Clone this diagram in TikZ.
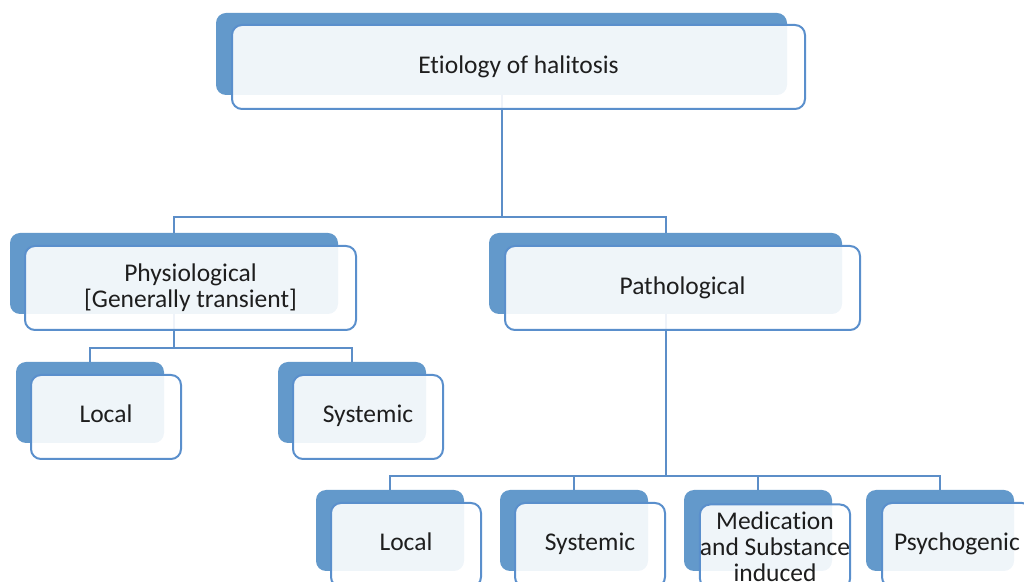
\documentclass[tikz,border=0pt]{standalone}
\usepackage{fontspec}
\setmainfont{Carlito}[Ligatures={NoCommon}, RawFeature={-liga;-clig;-dlig}]
\definecolor{boxblue}{RGB}{99, 153, 203}
\definecolor{edgeblue}{RGB}{90, 143, 204}
\definecolor{linkblue}{RGB}{92, 142, 200}
\definecolor{textgray}{RGB}{30, 30, 30}
\usetikzlibrary{positioning}

\tikzset{
  backbox/.style={fill=boxblue, rounded corners=5pt, inner sep=0pt, outer sep=0pt},
  frontbox/.style={draw=edgeblue, line width=1pt, fill=white, fill opacity=0.9, text opacity=1,
    rounded corners=5pt, inner sep=0pt, outer sep=0pt, align=center, text=textgray,
    font=\fontsize{12.75}{13}\selectfont},
  smallback/.style={backbox, minimum width=74pt, minimum height=40.5pt},
  smallfront/.style={frontbox, minimum width=75pt, minimum height=42pt},
  labelfront/.style={smallfront, text height=9pt, text depth=3pt},
  link/.style={draw=linkblue, line width=1pt}
}

\begin{document}
\begin{tikzpicture}[x=0.5pt, y=-0.5pt]
  \useasboundingbox (0,0) rectangle (1024,582);
  \clip (0,0) rectangle (1024,582);

  % Back plates
  \node[backbox, minimum width=285.5pt, minimum height=41pt] (rootback) at (501.5, 54) {};
  \node[backbox, minimum width=164pt, minimum height=40.5pt] (physback) at (174, 273.5) {};
  \node[backbox, minimum width=176.5pt, minimum height=40.5pt] (pathback) at (665.5, 273.5) {};
  \node[smallback] (plocalback) at (90, 402.5) {};
  \node[smallback] (psystback) at (352, 402.5) {};
  \node[smallback] (localback) at (390, 530.5) {};
  \node[smallback] (systback) at (574, 530.5) {};
  \node[smallback] (medback) at (758, 530.5) {};
  \node[smallback] (psychback) at (940, 530.5) {};

  % Rails
  \coordinate (toprail) at (0, 217);
  \coordinate (physrail) at (0, 348);
  \coordinate (pathrail) at (0, 476);

  % Connectors
  \draw[link] (rootback.south) |- (physback.north |- toprail) -- (physback.north);
  \draw[link] (rootback.south) |- (pathback.north |- toprail) -- (pathback.north);
  \draw[link] (physback.south) |- (plocalback.north |- physrail) -- (plocalback.north);
  \draw[link] (physback.south) |- (psystback.north |- physrail) -- (psystback.north);
  \draw[link] (pathback.south) |- (localback.north |- pathrail) -- (localback.north);
  \draw[link] (pathback.south) |- (systback.north |- pathrail) -- (systback.north);
  \draw[link] (pathback.south) |- (medback.north |- pathrail) -- (medback.north);
  \draw[link] (pathback.south) |- (psychback.north |- pathrail) -- (psychback.north);

  % Front cards
  \node[frontbox, minimum width=286.5pt, minimum height=42pt] (root) at (518.5, 67) {Etiology of halitosis};
  \node[frontbox, minimum width=165.5pt, minimum height=42pt] (phys) at (190.5, 288) {Physiological\\{}[Generally transient]};
  \node[frontbox, minimum width=177.5pt, minimum height=42pt] (path) at (682.5, 288) {Pathological};
  \node[labelfront] (plocal) at (106, 417) {Local};
  \node[labelfront] (psyst) at (368, 417) {Systemic};
  \node[labelfront] (local) at (406, 545) {Local};
  \node[labelfront] (syst) at (590, 545) {Systemic};
  \node[smallfront] (med) at (775, 546.5) {Medication\\and Substance\\induced};
  \node[labelfront] (psych) at (957, 545) {Psychogenic};
\end{tikzpicture}
\end{document}
